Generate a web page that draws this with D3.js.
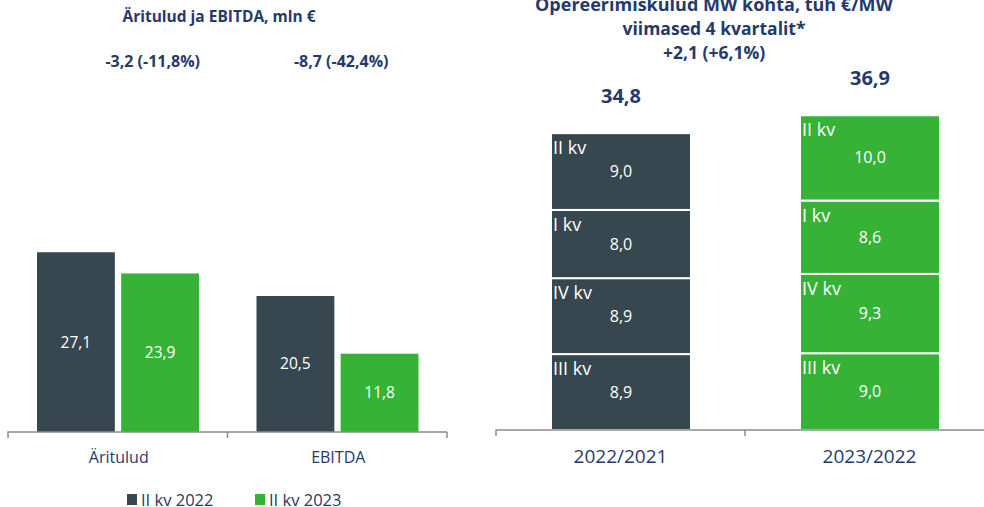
<!DOCTYPE html>
<html>
<head>
<meta charset="utf-8">
<script src="https://cdn.jsdelivr.net/npm/d3@7"></script>
<style>
  body { margin: 0; background: #fff; }
  svg { font-family: "Open Sans", sans-serif; }
</style>
</head>
<body>
<svg id="svg_chart" width="984" height="507"></svg>
<script>
// Left chart: Äritulud ja EBITDA
const leftCategories = ['Äritulud', 'EBITDA'];
const leftSeries = ['II kv 2022', 'II kv 2023'];
const values2022 = [27.1, 20.5];
const values2023 = [23.9, 11.8];
const leftChanges = ['-3,2 (-11,8%)', '-8,7 (-42,4%)'];

// Right chart: Opereerimiskulud MW kohta
const periods = ['2022/2021', '2023/2022'];
const quarters = ['III kv', 'IV kv', 'I kv', 'II kv'];
const opex2022 = [8.9, 8.9, 8.0, 9.0];
const opex2023 = [9.0, 9.3, 8.6, 10.0];
const rightTitle = ['Opereerimiskulud MW kohta, tuh €/MW', 'viimased 4 kvartalit*', '+2,1 (+6,1%)'];

const dark = '#37474f';
const green = '#36b336';
const navy = '#253a6a';
const axisGrey = '#8c8c8c';

const loc = d3.formatLocale({decimal: ',', thousands: ' ', grouping: [3], currency: ['', ' €']});
const fmt = loc.format('.1f');

const svg = d3.select('#svg_chart');

// ---------- left chart ----------
const xL = d3.scaleBand().domain(leftCategories).range([8, 447]);
const xL1 = d3.scaleBand().domain(leftSeries).range([29, 191]).paddingInner(0.075);
const yL = d3.scaleLinear().domain([0, 30]).range([432, 233]);
const colL = d3.scaleOrdinal().domain(leftSeries).range([dark, green]);

const leftData = leftCategories.map((c, i) => ({
  cat: c,
  vals: [{s: leftSeries[0], v: values2022[i]}, {s: leftSeries[1], v: values2023[i]}]
}));

svg.append('text')
   .attr('x', 219).attr('y', 22)
   .attr('text-anchor', 'middle')
   .attr('font-size', 15.5).attr('font-weight', 'bold')
   .attr('fill', navy)
   .text('Äritulud ja EBITDA, mln €');

const gL = svg.append('g');
const catG = gL.selectAll('g.cat').data(leftData).join('g')
   .attr('transform', d => `translate(${xL(d.cat)},0)`);

catG.selectAll('rect').data(d => d.vals).join('rect')
   .attr('x', d => xL1(d.s))
   .attr('width', xL1.bandwidth())
   .attr('y', d => yL(d.v))
   .attr('height', d => yL(0) - yL(d.v))
   .attr('fill', d => colL(d.s));

catG.selectAll('text.val').data(d => d.vals).join('text')
   .attr('class', 'val')
   .attr('x', d => xL1(d.s) + xL1.bandwidth() / 2)
   .attr('y', d => (yL(d.v) + yL(0)) / 2)
   .attr('dy', '0.35em')
   .attr('text-anchor', 'middle')
   .attr('font-size', 15.5)
   .attr('fill', '#fff')
   .text(d => fmt(d.v));

// change annotations above each pair
catG.append('text')
   .attr('x', (d, i) => xL.bandwidth() / 2 + (i === 0 ? 35 : 4))
   .attr('y', 67)
   .attr('text-anchor', 'middle')
   .attr('font-size', 16).attr('font-weight', 'bold')
   .attr('fill', navy)
   .text((d, i) => leftChanges[i]);

// category axis with boundary ticks
function bandAxis(g, x, y0, extendTo) {
  const edges = x.domain().map(d => x(d)).concat([x.range()[1]]);
  g.append('path')
   .attr('d', `M${edges[0]},${y0 + 6}V${y0}H${extendTo || edges[edges.length - 1]}` +
              edges.slice(1).map(e => `M${e},${y0}V${y0 + 6}`).join(''))
   .attr('fill', 'none')
   .attr('stroke', axisGrey)
   .attr('stroke-width', 1.5);
}

bandAxis(gL, xL, 432);
gL.selectAll('text.cat').data(leftCategories).join('text')
   .attr('class', 'cat')
   .attr('x', d => xL(d) + xL.bandwidth() / 2 + 1)
   .attr('y', 463)
   .attr('text-anchor', 'middle')
   .attr('font-size', 16)
   .attr('fill', navy)
   .text(d => d);

// legend
const legend = svg.append('g').attr('transform', 'translate(127,494)');
const legItem = legend.selectAll('g').data(leftSeries).join('g')
   .attr('transform', (d, i) => `translate(${i * 128},0)`);
legItem.append('rect').attr('width', 10).attr('height', 11).attr('fill', d => colL(d));
legItem.append('text')
   .attr('x', 14).attr('y', 11.5)
   .attr('font-size', 16.5)
   .attr('fill', navy)
   .text(d => d);

// ---------- right chart ----------
const xR = d3.scaleBand().domain(periods).range([496, 994]);
const barW = 140;
const yR = d3.scaleLinear().domain([0, 40]).range([430, 88.8]);
const colR = d3.scaleOrdinal().domain(periods).range([dark, green]);

const rightData = periods.map((p, i) => {
  const vals = i === 0 ? opex2022 : opex2023;
  let acc = 0;
  const segs = vals.map((v, j) => {
    const s = {period: p, q: quarters[j], v: v, y0: acc, y1: acc + v};
    acc += v;
    return s;
  });
  return {period: p, segs: segs, total: d3.sum(vals)};
});

const tg = svg.append('g');
tg.selectAll('text').data(rightTitle).join('text')
   .attr('x', 714)
   .attr('y', (d, i) => 11 + i * 24)
   .attr('text-anchor', 'middle')
   .attr('font-size', (d, i) => i === 0 ? 18 : 17.5).attr('font-weight', 'bold')
   .attr('fill', navy)
   .text(d => d);

const gR = svg.append('g');
const perG = gR.selectAll('g.per').data(rightData).join('g')
   .attr('transform', d => `translate(${xR(d.period) + (xR.bandwidth() - barW) / 2 + 0.5},0)`);

perG.selectAll('rect').data(d => d.segs).join('rect')
   .attr('x', 0)
   .attr('width', barW)
   .attr('y', d => yR(d.y1))
   .attr('height', d => yR(d.y0) - yR(d.y1))
   .attr('fill', d => colR(d.period))
   .attr('stroke', '#fff')
   .attr('stroke-width', 2);

perG.selectAll('text.q').data(d => d.segs).join('text')
   .attr('class', 'q')
   .attr('x', 2)
   .attr('y', d => yR(d.y1) + 21)
   .attr('font-size', 18)
   .attr('fill', '#fff')
   .text(d => d.q);

perG.selectAll('text.v').data(d => d.segs).join('text')
   .attr('class', 'v')
   .attr('x', barW / 2)
   .attr('y', d => (yR(d.y0) + yR(d.y1)) / 2)
   .attr('dy', '0.35em')
   .attr('text-anchor', 'middle')
   .attr('font-size', 16)
   .attr('fill', '#fff')
   .text(d => fmt(d.v));

perG.append('text')
   .attr('x', barW / 2)
   .attr('y', d => yR(d.total) - 30)
   .attr('text-anchor', 'middle')
   .attr('font-size', 20).attr('font-weight', 'bold')
   .attr('fill', navy)
   .text(d => fmt(d.total));

bandAxis(gR, xR, 430, 984);
gR.selectAll('text.cat').data(periods).join('text')
   .attr('class', 'cat')
   .attr('x', d => xR(d) + xR.bandwidth() / 2)
   .attr('y', 463)
   .attr('text-anchor', 'middle')
   .attr('font-size', 19)
   .attr('fill', navy)
   .text(d => d);
</script>
</body>
</html>
